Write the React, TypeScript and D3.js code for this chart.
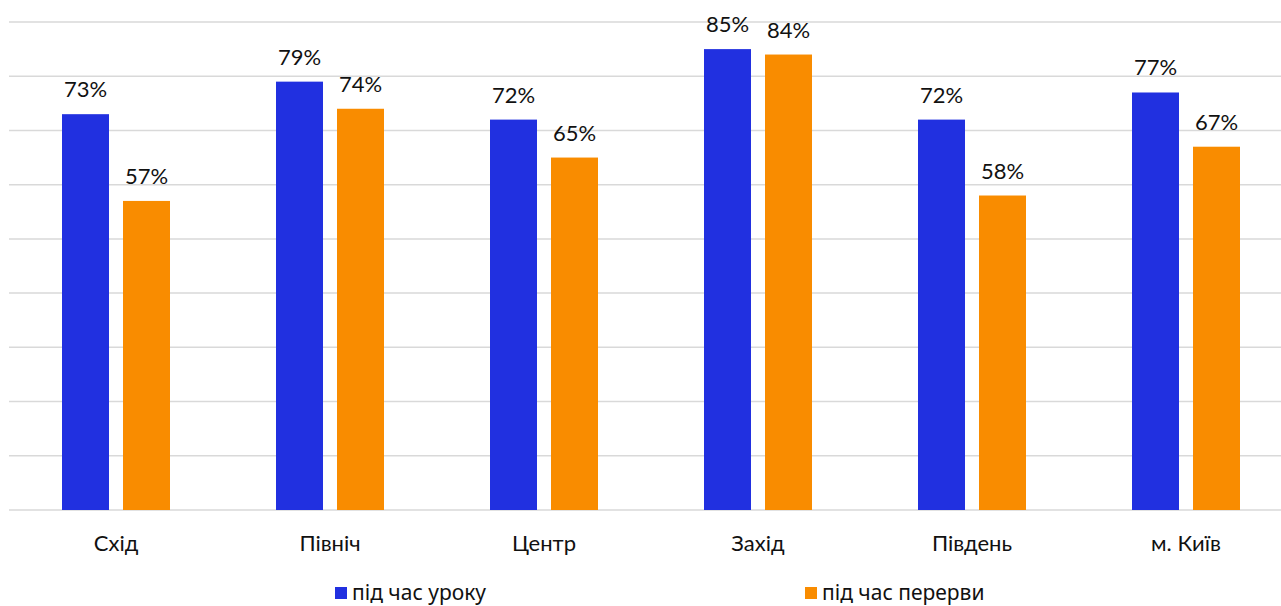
import React from "react";
import * as d3 from "d3";

const categories = ["Схід", "Північ", "Центр", "Захід", "Південь", "м. Київ"];
const seriesNames = ["під час уроку", "під час перерви"];
const lessonValues = [73, 79, 72, 85, 72, 77];
const breakValues = [57, 74, 65, 84, 58, 67];
const yTicks = [0, 10, 20, 30, 40, 50, 60, 70, 80, 90];
const colors = ["#2130E0", "#F98C00"];

export default function App() {
  const W = 1281;
  const H = 606;
  const x0 = d3.scaleBand<string>().domain(categories).range([9, 9 + 214 * 6]).paddingInner(0).paddingOuter(0);
  const bw = x0.bandwidth();
  const inner = d3.scaleBand<string>().domain(seriesNames).range([53, bw - 53]).paddingInner(14 / 61);
  const y = d3.scaleLinear().domain([0, 90]).range([510, 22]);
  const series = [lessonValues, breakValues];
  const labelFont = "Lato, 'Noto Sans', sans-serif";
  return (
    <div style={{ position: "absolute", left: 0, top: 0 }}>
      <svg width={W} height={H} style={{ display: "block", background: "#fff" }}>
        {yTicks.map((t) => (
          <line key={t} x1={9} x2={W} y1={y(t)} y2={y(t)} stroke="#D9D9D9" strokeWidth={1.5} />
        ))}
        {categories.map((c, i) => (
          <g key={c}>
            {series.map((vals, s) => {
              const bx = (x0(c) as number) + (inner(seriesNames[s]) as number);
              const v = vals[i];
              return (
                <g key={s}>
                  <rect x={bx} y={y(v)} width={inner.bandwidth()} height={y(0) - y(v)} fill={colors[s]} />
                  <text x={bx + inner.bandwidth() / 2} y={y(v) - 17} textAnchor="middle" fontFamily={labelFont} fontSize={22} fill="#111">
                    {v}%
                  </text>
                </g>
              );
            })}
            <text x={(x0(c) as number) + bw / 2} y={551} textAnchor="middle" fontFamily={labelFont} fontSize={22} fill="#111">
              {c}
            </text>
          </g>
        ))}
        {seriesNames.map((n, s) => {
          const lx = [335, 805][s];
          return (
            <g key={n}>
              <rect x={lx} y={587} width={12} height={12} fill={colors[s]} />
              <text x={lx + 17} y={600} fontFamily="'Liberation Sans Narrow', 'Noto Sans', sans-serif" fontSize={21} fill="#111">
                {n}
              </text>
            </g>
          );
        })}
      </svg>
    </div>
  );
}
